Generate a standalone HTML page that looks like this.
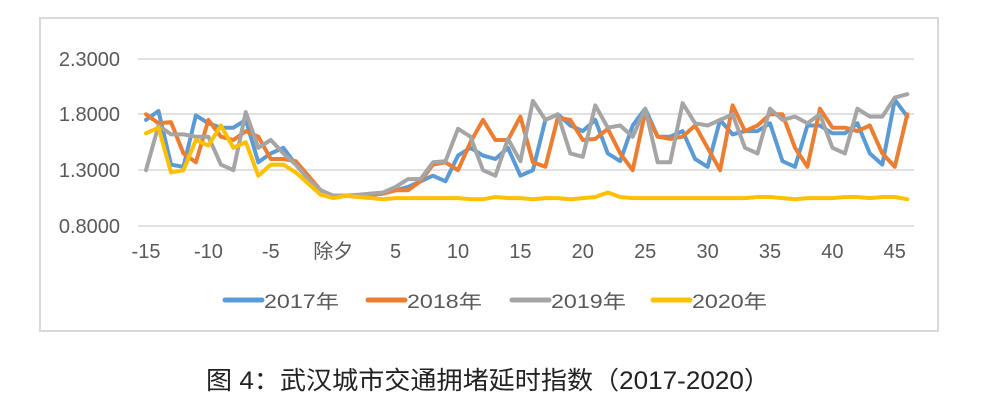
<!DOCTYPE html>
<html><head><meta charset="utf-8"><style>
html,body{margin:0;padding:0;background:#fff;width:1000px;height:414px;overflow:hidden}
text{font-family:"Liberation Sans","Noto Sans CJK SC",sans-serif}
</style></head><body>
<svg id="s" width="1000" height="414" xmlns="http://www.w3.org/2000/svg">
<rect x="40" y="18" width="898" height="313" fill="#fff" stroke="#d9d9d9" stroke-width="2"/>
<g stroke="#d9d9d9" stroke-width="1.5">
<line x1="138" x2="914" y1="59" y2="59"/><line x1="138" x2="914" y1="114" y2="114"/>
<line x1="138" x2="914" y1="170" y2="170"/><line x1="138" x2="914" y1="226" y2="226"/>
</g>
<g fill="#595959" font-size="20" text-anchor="end">
<text x="120" y="66">2.3000</text><text x="120" y="121">1.8000</text>
<text x="120" y="177">1.3000</text><text x="120" y="233">0.8000</text>
</g>
<g fill="#595959" font-size="20" text-anchor="middle" id="xl"></g>
<g id="lines" fill="none" stroke-width="4" stroke-linejoin="round" stroke-linecap="round"></g>
<g stroke-width="5" stroke-linecap="round">
<line x1="225" x2="262" y1="300" y2="300" stroke="#5b9bd5"/>
<line x1="368" x2="405" y1="300" y2="300" stroke="#ed7d31"/>
<line x1="512" x2="549" y1="300" y2="300" stroke="#a5a5a5"/>
<line x1="653" x2="690" y1="300" y2="300" stroke="#ffc000"/>
</g>
<g fill="#595959" font-size="19">
<text x="264" y="308" textLength="75" lengthAdjust="spacingAndGlyphs">2017年</text>
<text x="407" y="308" textLength="75" lengthAdjust="spacingAndGlyphs">2018年</text>
<text x="551" y="308" textLength="75" lengthAdjust="spacingAndGlyphs">2019年</text>
<text x="692" y="308" textLength="75" lengthAdjust="spacingAndGlyphs">2020年</text>
</g>
<text x="206" y="389" font-size="25" fill="#222" textLength="564" lengthAdjust="spacingAndGlyphs">图 4：武汉城市交通拥堵延时指数（2017-2020）</text>
</svg>
<script>
var X=function(i){return 146+(i+15)*12.48},Y=function(v){return 226-(v-0.8)*111.67};
var xl=document.getElementById('xl'),L=document.getElementById('lines'),NS="http://www.w3.org/2000/svg";
[-15,-10,-5,0,5,10,15,20,25,30,35,40,45].forEach(function(i){var t=document.createElementNS(NS,'text');t.setAttribute('x',X(i));t.setAttribute('y',258);t.textContent=i==0?'除夕':i;xl.appendChild(t);});
var d={
"#5b9bd5":[1.75,1.83,1.35,1.33,1.79,1.72,1.68,1.68,1.75,1.37,1.45,1.5,1.35,1.22,1.12,1.07,1.07,1.07,1.08,1.09,1.12,1.15,1.2,1.25,1.2,1.43,1.5,1.43,1.4,1.5,1.25,1.3,1.75,1.8,1.7,1.65,1.75,1.45,1.38,1.7,1.85,1.6,1.6,1.65,1.4,1.33,1.75,1.62,1.65,1.65,1.72,1.38,1.33,1.7,1.7,1.63,1.63,1.72,1.45,1.35,1.93,1.78],
"#ed7d31":[1.8,1.72,1.73,1.45,1.37,1.75,1.6,1.57,1.65,1.6,1.4,1.4,1.38,1.25,1.12,1.07,1.07,1.07,1.08,1.09,1.12,1.12,1.2,1.35,1.37,1.3,1.55,1.75,1.57,1.57,1.78,1.37,1.33,1.77,1.75,1.57,1.58,1.67,1.45,1.3,1.82,1.6,1.58,1.6,1.7,1.5,1.3,1.88,1.65,1.7,1.8,1.8,1.5,1.33,1.85,1.68,1.68,1.65,1.7,1.45,1.33,1.8],
"#a5a5a5":[1.3,1.7,1.62,1.62,1.6,1.6,1.35,1.3,1.82,1.5,1.57,1.45,1.35,1.22,1.12,1.07,1.07,1.08,1.09,1.1,1.15,1.22,1.22,1.37,1.38,1.67,1.6,1.3,1.25,1.58,1.38,1.92,1.75,1.8,1.45,1.42,1.88,1.68,1.7,1.6,1.85,1.37,1.37,1.9,1.72,1.7,1.75,1.8,1.5,1.45,1.85,1.75,1.78,1.72,1.8,1.5,1.45,1.85,1.78,1.78,1.95,1.98],
"#ffc000":[1.63,1.68,1.28,1.3,1.57,1.52,1.7,1.5,1.55,1.25,1.35,1.35,1.28,1.18,1.08,1.05,1.07,1.06,1.05,1.04,1.05,1.05,1.05,1.05,1.05,1.05,1.04,1.04,1.06,1.05,1.05,1.04,1.05,1.05,1.04,1.05,1.06,1.1,1.06,1.05,1.05,1.05,1.05,1.05,1.05,1.05,1.05,1.05,1.05,1.06,1.06,1.05,1.04,1.05,1.05,1.05,1.06,1.06,1.05,1.06,1.06,1.04]};
for(var c in d){var p=d[c].map(function(v,k){return X(k-15).toFixed(1)+','+Y(v).toFixed(1)}).join(' ');var e=document.createElementNS(NS,'polyline');e.setAttribute('points',p);e.setAttribute('stroke',c);L.appendChild(e);}
</script>
</body></html>
